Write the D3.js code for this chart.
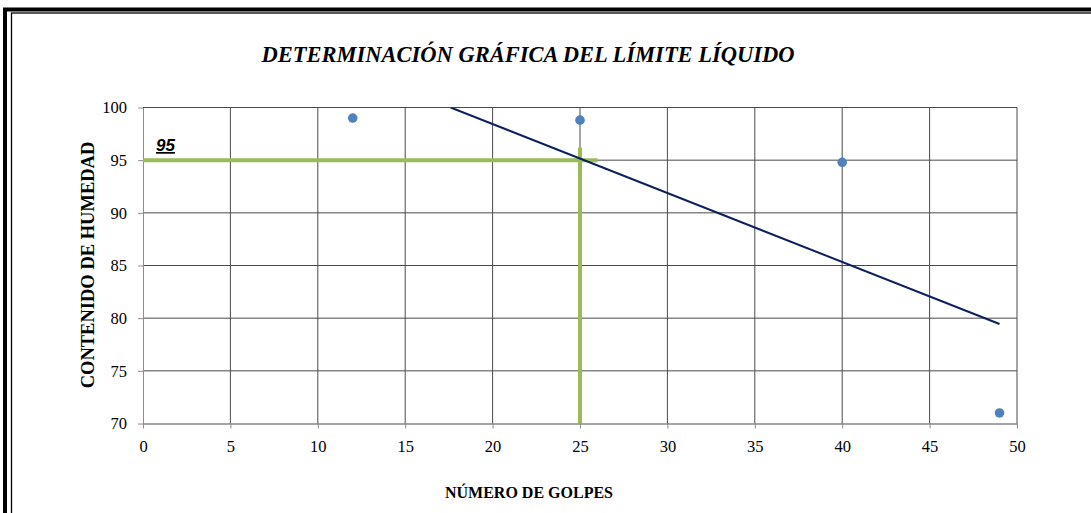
<!DOCTYPE html>
<html>
<head>
<meta charset="utf-8">
<script src="https://cdn.jsdelivr.net/npm/d3@7"></script>
<style>
  html, body { margin: 0; padding: 0; background: #fff; }
  svg { display: block; }
</style>
</head>
<body>
<svg id="chart" width="1091" height="513"></svg>
<script>
// Blows per test and the measured moisture content
const golpes = [12, 25, 40, 49];
const humedad = [99, 98.8, 94.8, 71];
const xTicks = [0, 5, 10, 15, 20, 25, 30, 35, 40, 45, 50];
const yTicks = [70, 75, 80, 85, 90, 95, 100];
// Liquid limit read at 25 blows
const limiteLiquido = 95;
const golpesReferencia = 25;

const svg = d3.select("#chart");
const W = 1091, H = 513;
const m = { left: 143, right: 1017, top: 107.5, bottom: 423.5 };
const serif = "'Liberation Serif', 'Times New Roman', serif";

// Double frame around the chart (runs past the right and bottom edges)
svg.append("rect").attr("x", 5).attr("y", 9.5).attr("width", W + 20).attr("height", H + 20)
  .attr("fill", "none").attr("stroke", "#000").attr("stroke-width", 4);
svg.append("rect").attr("x", 11.5).attr("y", 13).attr("width", W + 20).attr("height", H + 20)
  .attr("fill", "none").attr("stroke", "#000").attr("stroke-width", 1.3);

const x = d3.scaleLinear().domain([0, 50]).range([m.left, m.right]);
const y = d3.scaleLinear().domain([70, 100]).range([m.bottom, m.top]);

// Grid
const grid = svg.append("g");
grid.selectAll("line.v").data(xTicks.slice(1)).join("line")
  .attr("x1", d => x(d)).attr("x2", d => x(d)).attr("y1", m.top).attr("y2", m.bottom)
  .attr("stroke", "#4a4a4a").attr("stroke-width", 1);
grid.selectAll("line.h").data(yTicks.slice(1)).join("line")
  .attr("x1", m.left).attr("x2", m.right).attr("y1", d => y(d)).attr("y2", d => y(d))
  .attr("stroke", "#4a4a4a").attr("stroke-width", 1);

// Axes
const xAxis = svg.append("g").attr("transform", `translate(0,${m.bottom})`)
  .call(d3.axisBottom(x).tickValues(xTicks).tickSize(5).tickPadding(12).tickSizeOuter(0));
const yAxis = svg.append("g").attr("transform", `translate(${m.left},0)`)
  .call(d3.axisLeft(y).tickValues(yTicks).tickSize(5).tickPadding(11).tickSizeOuter(0));
[xAxis, yAxis].forEach(a => {
  a.select(".domain").attr("stroke", "#8c8c8c");
  a.selectAll(".tick line").attr("stroke", "#8c8c8c");
  a.selectAll(".tick text").attr("font-family", serif)
    .attr("font-size", 16.5).attr("fill", "#000");
});
xAxis.select(".domain").attr("stroke", "#4a4a4a");

// Least-squares trend line of the measured points
const mx = d3.mean(golpes), my = d3.mean(humedad);
const sxy = d3.sum(golpes, (g, i) => (g - mx) * (humedad[i] - my));
const sxx = d3.sum(golpes, g => (g - mx) * (g - mx));
const slope = sxy / sxx, intercept = my - slope * mx;
const x0 = Math.max(d3.min(golpes), (100 - intercept) / slope);
const x1 = d3.max(golpes);

svg.append("defs").append("clipPath").attr("id", "plotClip").append("rect")
  .attr("x", m.left).attr("y", m.top).attr("width", m.right - m.left).attr("height", m.bottom - m.top);

// Green guide lines at the liquid limit
const guides = svg.append("g").attr("clip-path", "url(#plotClip)");
guides.append("line")
  .attr("x1", x(0)).attr("x2", x(26)).attr("y1", y(limiteLiquido)).attr("y2", y(limiteLiquido))
  .attr("stroke", "#9bbb59").attr("stroke-width", 4);
guides.append("line")
  .attr("x1", x(golpesReferencia)).attr("x2", x(golpesReferencia)).attr("y1", y(70)).attr("y2", y(96.2))
  .attr("stroke", "#9bbb59").attr("stroke-width", 4);

svg.append("line").attr("clip-path", "url(#plotClip)")
  .attr("x1", x(x0)).attr("y1", y(intercept + slope * x0))
  .attr("x2", x(x1)).attr("y2", y(intercept + slope * x1))
  .attr("stroke", "#0b1f5c").attr("stroke-width", 2);

// Measured points
svg.append("g").selectAll("circle").data(golpes).join("circle")
  .attr("cx", d => x(d)).attr("cy", (d, i) => y(humedad[i])).attr("r", 4.8)
  .attr("fill", "#4f81bd");

// Limit label
svg.append("text").attr("x", 156).attr("y", 151)
  .attr("font-family", "'Liberation Sans', Arial, sans-serif").attr("font-size", 17)
  .attr("font-weight", "bold").attr("font-style", "italic").attr("text-decoration", "underline")
  .text(limiteLiquido);

// Titles
svg.append("text").attr("x", 528).attr("y", 62).attr("text-anchor", "middle")
  .attr("font-family", serif).attr("font-size", 22.5).attr("font-weight", "bold").attr("font-style", "italic")
  .text("DETERMINACIÓN GRÁFICA DEL LÍMITE LÍQUIDO");
svg.append("text").attr("x", 529).attr("y", 498).attr("text-anchor", "middle")
  .attr("font-family", serif).attr("font-size", 16).attr("font-weight", "bold")
  .text("NÚMERO DE GOLPES");
svg.append("text").attr("transform", "translate(94,265) rotate(-90)").attr("text-anchor", "middle")
  .attr("font-family", serif).attr("font-size", 18.5).attr("font-weight", "bold")
  .text("CONTENIDO DE HUMEDAD");
</script>
</body>
</html>
